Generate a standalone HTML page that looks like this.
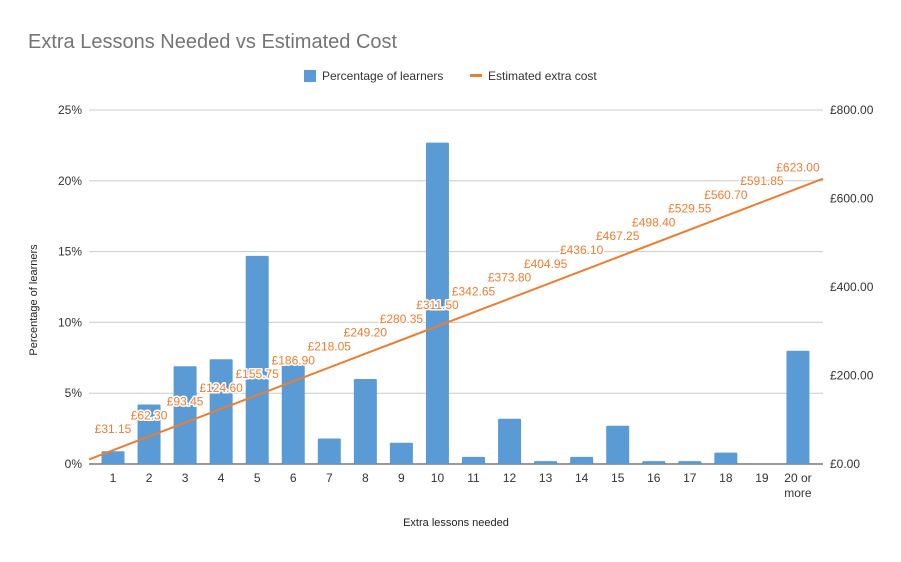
<!DOCTYPE html>
<html><head><meta charset="utf-8"><style>
body{margin:0;background:#fff;font-family:"Liberation Sans",Arial,sans-serif}
svg text{font-family:"Liberation Sans",Arial,sans-serif}
</style></head><body>
<svg id="c" width="901" height="557">
<rect width="901" height="557" fill="#fff"/>
<text x="28" y="48" font-size="20" fill="#757575">Extra Lessons Needed vs Estimated Cost</text>
<g>
<rect x="304" y="70" width="12" height="12" fill="#5b9bd5"/>
<text x="322" y="80" font-size="12" fill="#333">Percentage of learners</text>
<rect x="470" y="74" width="12" height="3" fill="#ed7d31"/>
<text x="488" y="80" font-size="12" fill="#333">Estimated extra cost</text>
</g>
<text transform="translate(37,300) rotate(-90)" text-anchor="middle" font-size="11" fill="#222">Percentage of learners</text>
<text x="456" y="526" text-anchor="middle" font-size="11" fill="#222">Extra lessons needed</text>
<g id="g"></g>
</svg>
<script>
const categories=["1","2","3","4","5","6","7","8","9","10","11","12","13","14","15","16","17","18","19","20 or more"];
const percentages=[0.9,4.2,6.9,7.4,14.7,7.0,1.8,6.0,1.5,22.7,0.5,3.2,0.2,0.5,2.7,0.2,0.2,0.8,0,8.0];
const costs=[31.15,62.30,93.45,124.60,155.75,186.90,218.05,249.20,280.35,311.50,342.65,373.80,404.95,436.10,467.25,498.40,529.55,560.70,591.85,623.00];
const leftTicks=[0,5,10,15,20,25];
const rightTicks=[0,200,400,600,800];
const NS="http://www.w3.org/2000/svg",g=document.getElementById('g');
const X0=89,X1=823,Y0=464,Y1=110;
const xC=i=>113+i*36.05;
const yL=v=>Y0-(v/25)*(Y0-Y1);
const yR=v=>Y0-(v/800)*(Y0-Y1);
function el(t,a,txt){const e=document.createElementNS(NS,t);for(const k in a)e.setAttribute(k,a[k]);if(txt!=null)e.textContent=txt;g.appendChild(e);return e;}
leftTicks.forEach(v=>{
 const l=el('line',{x1:X0,x2:X1,y1:yL(v),y2:yL(v),stroke:v===0?'#333':'#ccc','stroke-width':1});
 
 
 const t=el('text',{x:82,y:yL(v)+4,'text-anchor':'end','font-size':12,fill:'#333'},v+'%');
 
 
});
rightTicks.forEach(v=>{
 const t=el('text',{x:830,y:yR(v)+4,'font-size':12,fill:'#333'},'£'+v.toFixed(2));
 
 
});
categories.forEach((c,i)=>{
 const h=Y0-yL(percentages[i]);
 const b=el('rect',{x:xC(i)-11.5,y:yL(percentages[i]),width:23,height:h,fill:'#5b9bd5',rx:1});
 
 
 const parts=c==='20 or more'?['20','or','more']:[c];
 const t=el('text',{x:xC(i),y:482,'text-anchor':'middle','font-size':12,fill:'#333'});
 
 
 if(parts.length>1){t.setAttribute('y',482);t.textContent='20 or';const t2=el('text',{x:xC(i),y:497,'text-anchor':'middle','font-size':12,fill:'#333'},'more');}
 else t.textContent=c;
});
// line extended across plot
const slope=(costs[costs.length-1]-costs[0])/(costs.length-1);
const vAt=x=>costs[0]+slope*(x-xC(0))/36.05;
const ln=el('line',{x1:X0,y1:yR(vAt(X0)),x2:X1,y2:yR(vAt(X1)),stroke:'#ed7d31','stroke-width':2});


costs.forEach((v,i)=>{
 const t=el('text',{x:xC(i),y:yR(v)-17,'text-anchor':'middle','font-size':12,fill:'#ed7d31',stroke:'#fff','stroke-width':3,'paint-order':'stroke','stroke-linejoin':'round'},'£'+v.toFixed(2));
 
 
});
</script>
</body></html>
